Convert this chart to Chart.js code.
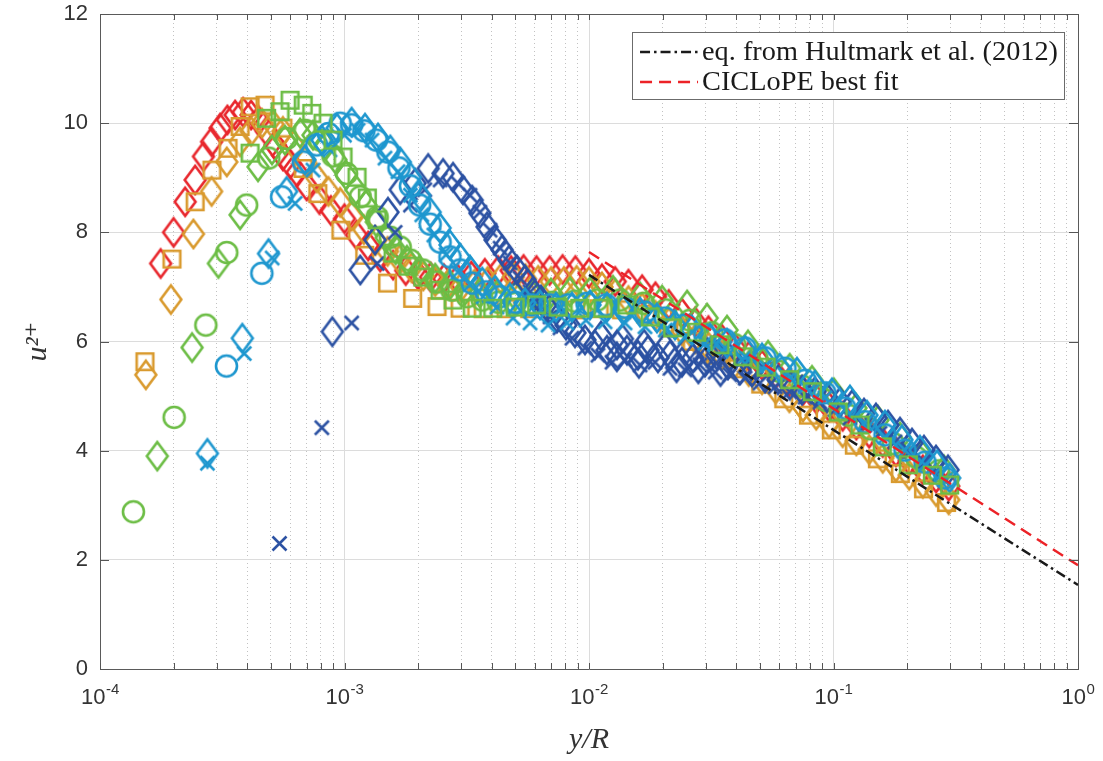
<!DOCTYPE html>
<html><head><meta charset="utf-8">
<script src="https://cdn.jsdelivr.net/npm/chart.js@4.4.1/dist/chart.umd.min.js"></script>
<style>html,body{margin:0;padding:0;background:#fff}#wrap{width:1103px;height:761px;position:relative;background:#fff}</style>
</head><body><div id="wrap"><canvas id="c"></canvas></div>
<script>
// ---------- axis tick labels ----------
const xDecades = [1e-4, 1e-3, 1e-2, 1e-1, 1];
const xTickBase = ['10', '10', '10', '10', '10'];
const xTickExp = ['-4', '-3', '-2', '-1', '0'];
const yTicks = [0, 2, 4, 6, 8, 10, 12];

// ---------- data (y/R , u2+) ----------
const redDiamondX = [1.77e-4,2.0e-4,2.23e-4,2.45e-4,2.65e-4,2.86e-4,3.1e-4,3.32e-4,3.57e-4,3.85e-4,4.15e-4,4.45e-4,4.8e-4,5.2e-4,5.6e-4,6.0e-4,6.4e-4,7.0e-4,7.9e-4,8.8e-4,1.0e-3,1.12e-3,1.25e-3,1.4e-3,1.58e-3,1.78e-3,2.0e-3,2.25e-3,2.55e-3,2.9e-3,3.3e-3,3.75e-3,4.25e-3,4.8e-3,5.4e-3,6.1e-3,6.9e-3,7.8e-3,8.8e-3,1.0e-2,1.13e-2,1.28e-2,1.45e-2,1.65e-2,1.87e-2,2.12e-2,2.4e-2,2.72e-2,3.08e-2,3.5e-2,3.95e-2,4.5e-2,5.1e-2,5.8e-2,6.6e-2,7.5e-2,8.5e-2,9.6e-2,0.109,0.124,0.14,0.159,0.18,0.204,0.232,0.263,0.296];
const redDiamondY = [7.43,8.0,8.56,8.96,9.39,9.66,9.91,10.06,10.15,10.2,10.15,10.05,9.85,9.6,9.4,9.25,9.1,8.85,8.6,8.4,8.25,7.95,7.75,7.55,7.4,7.3,7.22,7.18,7.15,7.15,7.2,7.25,7.3,7.3,7.32,7.3,7.3,7.32,7.3,7.25,7.15,7.1,7.05,6.95,6.82,6.68,6.52,6.36,6.2,6.04,5.89,5.73,5.57,5.41,5.26,5.1,4.95,4.8,4.63,4.47,4.32,4.15,3.98,3.82,3.65,3.5,3.35];

const orangeDiamondX = [1.54e-4,1.95e-4,2.41e-4,2.86e-4,3.3e-4,3.74e-4,4.15e-4,4.6e-4,5.1e-4,5.6e-4,6.2e-4,6.9e-4,7.7e-4,8.6e-4,9.6e-4,1.07e-3,1.2e-3,1.34e-3,1.5e-3,1.68e-3,1.88e-3,2.1e-3,2.35e-3,2.65e-3,3.0e-3,3.4e-3,3.85e-3,4.35e-3,4.9e-3,5.5e-3,6.2e-3,7.0e-3,7.9e-3,8.9e-3,1.0e-2,1.13e-2,1.28e-2,1.45e-2,1.65e-2,1.87e-2,2.12e-2,2.4e-2,2.72e-2,3.08e-2,3.5e-2,3.95e-2,4.5e-2,5.1e-2,5.8e-2,6.6e-2,7.5e-2,8.5e-2,9.6e-2,0.109,0.124,0.14,0.159,0.18,0.204,0.232,0.263,0.296];
const orangeDiamondY = [5.39,6.77,7.97,8.75,9.29,9.66,9.85,10.0,9.98,9.85,9.6,9.3,9.0,8.75,8.55,8.3,8.05,7.85,7.65,7.5,7.35,7.2,7.1,7.05,7.0,7.05,7.1,7.15,7.18,7.15,7.12,7.1,7.1,7.12,7.1,7.0,6.88,6.75,6.62,6.48,6.35,6.2,6.05,5.9,5.75,5.6,5.45,5.3,5.13,4.97,4.8,4.65,4.5,4.33,4.18,4.02,3.86,3.7,3.55,3.4,3.25,3.1];

const orangeSquareX = [1.527e-4,1.97e-4,2.45e-4,2.87e-4,3.34e-4,3.74e-4,4.11e-4,4.73e-4,5.6e-4,6.77e-4,7.78e-4,9.67e-4,1.21e-3,1.5e-3,1.9e-3,2.39e-3,2.97e-3,3.69e-3,4.58e-3,5.72e-3,7.1e-3,8.83e-3,1.1e-2,1.36e-2,1.71e-2,2.12e-2,2.64e-2,3.27e-2,4.06e-2,5.04e-2,6.26e-2,7.9e-2,9.8e-2,0.1217,0.1512,0.1877,0.2334,0.29];
const orangeSquareY = [5.63,7.51,8.56,9.14,9.54,9.94,10.3,10.33,9.91,9.17,8.71,8.04,7.58,7.07,6.79,6.64,6.61,6.6,6.6,6.6,6.6,6.58,6.6,6.58,6.5,6.25,6.0,5.75,5.5,5.22,4.95,4.65,4.38,4.1,3.85,3.58,3.3,3.05];

const greenDiamondX = [1.715e-4,2.38e-4,3.05e-4,3.74e-4,4.43e-4,5.05e-4,5.71e-4,6.58e-4,7.43e-4,8.32e-4,9.23e-4,1.014e-3,1.114e-3,1.224e-3,1.35e-3,1.48e-3,1.62e-3,1.8e-3,2.03e-3,2.35e-3,2.7e-3,3.11e-3,3.58e-3,4.2e-3,4.99e-3,5.9e-3,6.99e-3,8.36e-3,1.01e-2,1.254e-2,1.617e-2,1.99e-2,2.52e-2,3.04e-2,3.67e-2,4.47e-2,5.4e-2,6.62e-2,8.17e-2,0.1005,0.1236,0.152,0.1871,0.2301,0.283];
const greenDiamondY = [3.9,5.89,7.43,8.32,9.2,9.51,9.69,9.82,9.78,9.6,9.33,9.05,8.78,8.5,8.19,7.9,7.68,7.49,7.31,7.16,7.04,6.94,6.89,6.85,6.83,6.85,6.89,6.91,6.91,6.94,6.82,6.76,6.67,6.43,6.21,5.94,5.75,5.51,5.29,5.06,4.78,4.56,4.25,3.92,3.65];

const greenCircleX = [1.37e-4,2.01e-4,2.71e-4,3.3e-4,3.98e-4,4.9e-4,5.8e-4,6.9e-4,7.95e-4,8.97e-4,1.02e-3,1.16e-3,1.36e-3,1.54e-3,1.69e-3,1.86e-3,2.09e-3,2.39e-3,2.75e-3,3.18e-3,3.66e-3,4.25e-3,4.99e-3,5.83e-3,7.1e-3,8.74e-3,1.08e-2,1.34e-2,1.67e-2,2.06e-2,2.59e-2,3.18e-2,3.95e-2,4.86e-2,6.03e-2,7.49e-2,9.31e-2,0.1149,0.1415,0.1757,0.218,0.2687];
const greenCircleY = [2.88,4.61,6.3,7.63,8.5,9.36,9.72,9.87,9.69,9.4,9.08,8.65,8.28,7.91,7.73,7.49,7.31,7.09,6.94,6.82,6.76,6.72,6.7,6.7,6.72,6.74,6.76,6.76,6.7,6.58,6.39,6.16,5.94,5.7,5.45,5.18,4.92,4.65,4.4,4.13,3.88,3.63];

const greenSquareX = [4.11e-4,4.8e-4,5.45e-4,5.99e-4,6.78e-4,7.35e-4,8.17e-4,8.97e-4,9.86e-4,1.125e-3,1.24e-3,1.36e-3,1.58e-3,1.82e-3,2.09e-3,2.46e-3,2.78e-3,3.33e-3,4.04e-3,4.99e-3,6.11e-3,7.48e-3,9.17e-3,1.14e-2,1.43e-2,1.78e-2,2.2e-2,2.76e-2,3.43e-2,4.26e-2,5.3e-2,6.62e-2,8.2e-2,0.1045,0.1284,0.1583,0.2024,0.2537,0.2986];
const greenSquareY = [9.45,10.09,10.21,10.42,10.33,10.18,10.0,9.69,9.38,9.01,8.63,8.23,7.62,7.38,7.18,6.94,6.76,6.61,6.61,6.63,6.67,6.63,6.61,6.61,6.67,6.45,6.25,6.17,5.94,5.72,5.53,5.3,5.08,4.71,4.47,4.07,3.74,3.55,3.37];

const cyanCircleX = [3.29e-4,4.59e-4,5.53e-4,6.78e-4,7.7e-4,8.59e-4,9.6e-4,1.07e-3,1.2e-3,1.35e-3,1.506e-3,1.67e-3,1.86e-3,2.03e-3,2.24e-3,2.46e-3,2.7e-3,2.97e-3,3.33e-3,3.79e-3,4.33e-3,4.99e-3,5.83e-3,6.93e-3,8.21e-3,9.81e-3,1.174e-2,1.404e-2,1.694e-2,2.05e-2,2.47e-2,2.98e-2,3.6e-2,4.35e-2,5.25e-2,6.33e-2,7.65e-2,9.23e-2,0.1114,0.1345,0.1624,0.196,0.2367,0.2858];
const cyanCircleY = [5.55,7.25,8.65,9.29,9.6,9.81,10.0,9.97,9.86,9.69,9.47,9.18,8.85,8.5,8.15,7.82,7.55,7.31,7.07,6.91,6.82,6.72,6.67,6.67,6.67,6.7,6.67,6.63,6.54,6.43,6.3,6.12,6.03,5.88,5.7,5.51,5.29,5.06,4.78,4.53,4.29,4.01,3.79,3.5];

const cyanDiamondX = [2.75e-4,3.82e-4,4.89e-4,5.8e-4,6.89e-4,8.09e-4,9.32e-4,1.07e-3,1.213e-3,1.371e-3,1.54e-3,1.69e-3,1.86e-3,2.03e-3,2.24e-3,2.46e-3,2.7e-3,2.97e-3,3.26e-3,3.66e-3,4.13e-3,4.75e-3,5.47e-3,6.3e-3,7.33e-3,8.52e-3,1.01e-2,1.185e-2,1.377e-2,1.617e-2,1.897e-2,2.247e-2,2.64e-2,3.13e-2,3.67e-2,4.35e-2,5.1e-2,6.03e-2,7.09e-2,8.4e-2,9.86e-2,0.1168,0.1371,0.1624,0.1906,0.2258,0.2651,0.2986];
const cyanDiamondY = [3.95,6.06,7.61,8.75,9.33,9.69,9.91,10.02,9.91,9.73,9.51,9.29,9.01,8.68,8.37,8.08,7.77,7.53,7.31,7.09,6.94,6.8,6.71,6.67,6.63,6.63,6.67,6.63,6.58,6.54,6.43,6.3,6.21,6.06,5.97,5.84,5.7,5.51,5.44,5.2,5.06,4.93,4.65,4.47,4.2,4.01,3.74,3.5];

const cyanCrossX = [2.75e-4,3.89e-4,5.06e-4,6.28e-4,7.43e-4,8.72e-4,1.0e-3,1.136e-3,1.296e-3,1.464e-3,1.655e-3,1.86e-3,2.07e-3,2.32e-3,2.6e-3,2.91e-3,3.26e-3,3.69e-3,4.2e-3,4.89e-3,5.74e-3,6.8e-3,8.13e-3,9.72e-3,1.163e-2,1.404e-2,1.694e-2,2.05e-2,2.47e-2,2.98e-2,3.6e-2,4.35e-2,5.25e-2,6.33e-2,7.65e-2,9.23e-2,0.1114,0.1345,0.1624,0.196,0.2367,0.2858];
const cyanCrossY = [3.77,5.78,7.53,8.53,9.14,9.51,9.78,9.87,9.69,9.36,9.11,8.68,8.32,7.95,7.59,7.27,7.04,6.82,6.63,6.43,6.34,6.3,6.34,6.39,6.36,6.34,6.27,6.21,6.08,5.97,5.88,5.72,5.55,5.39,5.17,4.97,4.75,4.51,4.25,4.01,3.74,3.46];

const blueDiamondX = [8.92e-4,1.16e-3,1.333e-3,1.506e-3,1.69e-3,1.943e-3,2.2e-3,2.53e-3,2.78e-3,3.05e-3,3.33e-3,3.58e-3,3.83e-3,4.13e-3,4.41e-3,4.71e-3,5.08e-3,5.47e-3,5.9e-3,6.36e-3,6.86e-3,7.4e-3,8.05e-3,8.76e-3,9.63e-3,1.058e-2,1.185e-2,1.302e-2,1.43e-2,1.586e-2,1.743e-2,1.915e-2,2.145e-2,2.4e-2,2.66e-2,2.98e-2,3.34e-2,3.7e-2,4.15e-2,4.64e-2,5.25e-2,5.93e-2,6.62e-2,7.43e-2,8.4e-2,9.41e-2,0.1063,0.1191,0.1333,0.1492,0.1671,0.1871,0.2095,0.2345,0.2626,0.294,1.12e-2,1.37e-2,1.68e-2,2.05e-2,2.5e-2,3.05e-2,3.75e-2,4.6e-2,2.28e-2,2.8e-2,3.45e-2,1.3e-2,1.6e-2];
const blueDiamondY = [6.18,7.31,7.86,8.37,8.78,8.9,9.17,9.08,9.01,8.78,8.59,8.35,8.1,7.86,7.68,7.49,7.31,7.13,6.91,6.76,6.58,6.43,6.3,6.16,6.03,5.94,5.84,5.94,5.84,5.75,5.84,5.7,5.75,5.62,5.7,5.62,5.75,5.57,5.48,5.44,5.33,5.3,5.2,5.11,5.08,4.97,4.89,4.84,4.69,4.6,4.47,4.34,4.14,4.01,3.83,3.65,6.1,6.05,5.95,5.9,5.85,5.8,5.7,5.55,5.52,5.5,5.45,5.72,5.6];

const blueCrossX = [5.42e-4,8.08e-4,1.07e-3,1.36e-3,1.61e-3,1.86e-3,2.13e-3,2.46e-3,2.91e-3,3.26e-3,3.58e-3,3.94e-3,4.33e-3,4.75e-3,5.22e-3,5.74e-3,6.3e-3,6.93e-3,7.61e-3,8.52e-3,9.63e-3,1.088e-2,1.242e-2,1.404e-2,1.617e-2,1.862e-2,2.145e-2,2.47e-2,2.84e-2,3.28e-2,3.77e-2,4.35e-2,5.0e-2,5.77e-2,6.62e-2,7.65e-2,8.81e-2,0.1014,0.1168,0.1345,0.1549,0.1784,0.2055,0.2367,0.2727];
const blueCrossY = [2.3,4.42,6.34,7.43,8.0,8.5,8.78,8.96,8.9,8.68,8.37,8.04,7.71,7.44,7.16,6.91,6.67,6.45,6.25,6.06,5.88,5.75,5.62,5.66,5.57,5.62,5.51,5.48,5.57,5.44,5.39,5.33,5.24,5.17,5.08,4.98,4.89,4.75,4.6,4.47,4.32,4.16,3.98,3.79,3.57];

// fitted curves (end points)
const fitX = [0.01, 1];
const hultmarkY = [7.22, 1.54];
const ciclopeY = [7.64, 1.9];

// ---------- styling ----------
const COL = {red:'#e8262c', orange:'#d99a2e', green:'#6cbd45', cyan:'#1e97cf', blue:'#2c52a3'};

function marker(shape, color){
  const c = document.createElement('canvas');
  let w, h;
  if (shape === 'diamond') { w = 28; h = 36; }
  else if (shape === 'square') { w = 23; h = 23; }
  else if (shape === 'circle') { w = 27; h = 27; }
  else { w = 21; h = 21; }
  c.width = w; c.height = h;
  const g = c.getContext('2d');
  g.strokeStyle = color; g.lineWidth = 2.6; g.lineJoin = 'miter';
  const cx = w / 2, cy = h / 2;
  g.beginPath();
  if (shape === 'diamond') { g.moveTo(cx, cy - 14); g.lineTo(cx + 10.4, cy); g.lineTo(cx, cy + 14); g.lineTo(cx - 10.4, cy); g.closePath(); }
  else if (shape === 'square') { g.rect(cx - 8.3, cy - 8.3, 16.6, 16.6); }
  else if (shape === 'circle') { g.arc(cx, cy, 10.5, 0, Math.PI * 2); }
  else { g.moveTo(cx - 7, cy - 7); g.lineTo(cx + 7, cy + 7); g.moveTo(cx + 7, cy - 7); g.lineTo(cx - 7, cy + 7); }
  g.stroke();
  return c;
}

function scatterSet(label, xs, ys, shape, color, order){
  return {
    type: 'scatter', label, order,
    data: xs.map((x, i) => ({x, y: ys[i]})),
    pointStyle: marker(shape, color), pointRadius: 11, pointHoverRadius: 11,
    borderColor: color, backgroundColor: color, showLine: false
  };
}

const minorTicks = [];
for (let e = -4; e < 0; e++) for (let m = 2; m <= 9; m++) minorTicks.push(m * Math.pow(10, e));

const boxLegend = {
  id: 'boxLegend',
  afterDraw(chart){
    const {ctx, chartArea: a} = chart;
    const items = chart.data.datasets.filter(d => d.inLegend);
    ctx.save();
    ctx.font = '24px "Liberation Serif", "DejaVu Serif", serif';
    const w24 = Math.max(...items.map(d => ctx.measureText(d.label).width));
    const fs = 24 * 356 / w24;
    ctx.font = fs.toFixed(2) + 'px "Liberation Serif", "DejaVu Serif", serif';
    const textW = Math.max(...items.map(d => ctx.measureText(d.label).width));
    const padL = 8, sampleW = 58, gap = 4, padR = 7;
    const boxW = padL + sampleW + gap + textW + padR, boxH = 68;
    const right = a.right - 13, top = a.top + 18, left = right - boxW;
    ctx.fillStyle = '#fff'; ctx.fillRect(left, top, boxW, boxH);
    ctx.strokeStyle = '#6b6b6b'; ctx.lineWidth = 1;
    ctx.strokeRect(Math.round(left) + 0.5, Math.round(top) + 0.5, Math.round(boxW) - 1, boxH - 1);
    items.forEach((d, i) => {
      const y = top + 20 + i * 30;
      ctx.strokeStyle = d.borderColor; ctx.lineWidth = d.borderWidth; ctx.setLineDash(d.borderDash || []);
      ctx.beginPath(); ctx.moveTo(left + padL, y); ctx.lineTo(left + padL + sampleW, y); ctx.stroke();
      ctx.setLineDash([]);
      ctx.fillStyle = '#1a1a1a'; ctx.textAlign = 'left'; ctx.textBaseline = 'middle';
      ctx.fillText(d.label, left + padL + sampleW + gap, y + 1);
    });
    ctx.restore();
  }
};

const axisDecor = {
  id: 'axisDecor',
  afterDatasetsDraw(chart){
    const {ctx, chartArea: a, scales} = chart;
    ctx.save();
    ctx.strokeStyle = '#555'; ctx.lineWidth = 1;
    ctx.beginPath();
    xDecades.concat(minorTicks).forEach(v => {
      const px = Math.round(scales.x.getPixelForValue(v)) + 0.5;
      ctx.moveTo(px, a.bottom); ctx.lineTo(px, a.bottom - 6);
      ctx.moveTo(px, a.top); ctx.lineTo(px, a.top + 6);
    });
    yTicks.forEach(v => {
      const py = Math.round(scales.y.getPixelForValue(v)) + 0.5;
      ctx.moveTo(a.left, py); ctx.lineTo(a.left + 9, py);
      ctx.moveTo(a.right, py); ctx.lineTo(a.right - 9, py);
    });
    ctx.stroke();
    // x tick labels: base "10" with a raised exponent
    ctx.fillStyle = '#333';
    ctx.textBaseline = 'alphabetic'; ctx.textAlign = 'left';
    xDecades.forEach((v, i) => {
      const px = scales.x.getPixelForValue(v);
      ctx.font = '22px "Liberation Sans", Arial, sans-serif';
      const wb = ctx.measureText(xTickBase[i]).width;
      ctx.font = '15px "Liberation Sans", Arial, sans-serif';
      const we = ctx.measureText(xTickExp[i]).width;
      const x0 = px - (wb + we) / 2;
      ctx.font = '22px "Liberation Sans", Arial, sans-serif';
      ctx.fillText(xTickBase[i], x0, a.bottom + 35);
      ctx.font = '15px "Liberation Sans", Arial, sans-serif';
      ctx.fillText(xTickExp[i], x0 + wb + 0.5, a.bottom + 25);
    });
    ctx.restore();
  }
};

const tickFont = {family: '"Liberation Sans", Arial, sans-serif', size: 22};
const datasets = [
  {type: 'line', label: 'eq. from Hultmark et al. (2012)', inLegend: true, order: 0,
   data: fitX.map((x, i) => ({x, y: hultmarkY[i]})), borderColor: '#1a1a1a', borderWidth: 2.5,
   borderDash: [10, 4, 2.5, 4], pointRadius: 0, fill: false, showLine: true},
  {type: 'line', label: 'CICLoPE best fit', inLegend: true, order: 0,
   data: fitX.map((x, i) => ({x, y: ciclopeY[i]})), borderColor: '#ec2227', borderWidth: 2.5,
   borderDash: [12, 7], pointRadius: 0, fill: false, showLine: true},
  scatterSet('green squares', greenSquareX, greenSquareY, 'square', COL.green, 1),
  scatterSet('cyan circles', cyanCircleX, cyanCircleY, 'circle', COL.cyan, 2),
  scatterSet('cyan diamonds', cyanDiamondX, cyanDiamondY, 'diamond', COL.cyan, 3),
  scatterSet('cyan crosses', cyanCrossX, cyanCrossY, 'cross', COL.cyan, 4),
  scatterSet('blue crosses', blueCrossX, blueCrossY, 'cross', COL.blue, 5),
  scatterSet('blue diamonds', blueDiamondX, blueDiamondY, 'diamond', COL.blue, 6),
  scatterSet('green circles', greenCircleX, greenCircleY, 'circle', COL.green, 7),
  scatterSet('green diamonds', greenDiamondX, greenDiamondY, 'diamond', COL.green, 8),
  scatterSet('orange squares', orangeSquareX, orangeSquareY, 'square', COL.orange, 9),
  scatterSet('orange diamonds', orangeDiamondX, orangeDiamondY, 'diamond', COL.orange, 10),
  scatterSet('red diamonds', redDiamondX, redDiamondY, 'diamond', COL.red, 11)
];

new Chart(document.getElementById('c'), {
  type: 'scatter',
  data: {datasets},
  plugins: [axisDecor, boxLegend],
  options: {
    responsive: true, maintainAspectRatio: false, animation: false,
    layout: {padding: 0},
    plugins: {legend: {display: false}, tooltip: {enabled: false}},
    scales: {
      x: {
        type: 'logarithmic', position: 'bottom', min: 1e-4, max: 1,
        afterBuildTicks: s => { s.ticks = xDecades.map(v => ({value: v, major: true})); },
        afterFit: s => { s.height = 92; s.paddingLeft = 0; s.paddingRight = 0; },
        ticks: {display: false},
        grid: {color: '#dcdcdc', lineWidth: 1, drawTicks: false},
        border: {color: '#5a5a5a', width: 1},
        title: {display: true, text: 'y/R', color: '#333', padding: {top: 0, bottom: 3},
                font: {family: '"Liberation Serif", "DejaVu Serif", serif', size: 30, style: 'italic'}}
      },
      x2: {
        type: 'logarithmic', position: 'top', min: 1e-4, max: 1,
        afterBuildTicks: s => { s.ticks = minorTicks.map(v => ({value: v})); },
        afterFit: s => { s.height = 14; s.paddingLeft = 0; s.paddingRight = 0; },
        ticks: {display: false},
        grid: {color: '#c2c2c2', lineWidth: 1, drawTicks: false},
        border: {display: true, color: '#5a5a5a', width: 1, dash: [1, 3]}
      },
      y: {
        type: 'linear', position: 'left', min: 0, max: 12,
        afterBuildTicks: s => { s.ticks = yTicks.map(v => ({value: v})); },
        afterFit: s => { s.width = 100; s.paddingTop = 0; s.paddingBottom = 0; },
        ticks: {padding: 12, color: '#333', font: tickFont},
        grid: {color: '#dcdcdc', lineWidth: 1, drawTicks: false},
        border: {color: '#5a5a5a', width: 1},
        title: {display: true, text: 'u\u00B2\u207A', color: '#333', padding: {top: 20, bottom: 0},
                font: {family: '"Liberation Serif", "DejaVu Serif", serif', size: 30, style: 'italic'}}
      },
      y2: {
        type: 'linear', position: 'right', min: 0, max: 12,
        afterFit: s => { s.width = 25; s.paddingTop = 0; s.paddingBottom = 0; },
        ticks: {display: false},
        grid: {drawOnChartArea: false, drawTicks: false},
        border: {color: '#5a5a5a', width: 1}
      }
    }
  }
});
</script></body></html>
